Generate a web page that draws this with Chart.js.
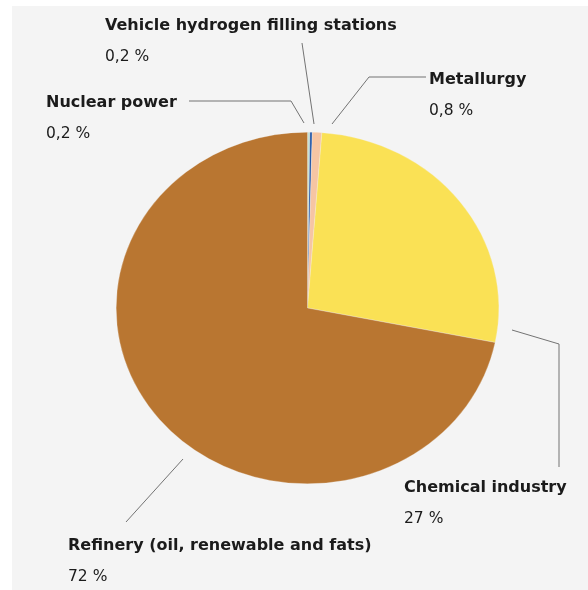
<!DOCTYPE html>
<html>
<head>
<meta charset="utf-8">
<script src="https://cdn.jsdelivr.net/npm/chart.js@4"></script>
<style>
  html, body { margin: 0; padding: 0; background: #ffffff; }
  #wrap { position: relative; width: 588px; height: 590px; }
</style>
</head>
<body>
<div id="wrap"><canvas id="useChart" width="588" height="590"></canvas></div>
<script>
// Hydrogen use by sector, share of total (%)
const sectors = [
  "Nuclear power",
  "Vehicle hydrogen filling stations",
  "Metallurgy",
  "Chemical industry",
  "Refinery (oil, renewable and fats)"
];
const shares = [0.2, 0.2, 0.8, 27, 72];
const shareLabels = ["0,2 %", "0,2 %", "0,8 %", "27 %", "72 %"];
const sliceColors = ["#c6e2d3", "#2457a6", "#f6c5a3", "#fae155", "#b97631"];

// Where each caption sits and how its leader line runs
const captions = [
  { x: 46,  y: 103, line: [[189, 101], [291, 101], [304, 123]] },
  { x: 105, y: 26,  line: [[302, 43], [314, 124]] },
  { x: 429, y: 80,  line: [[426, 77], [369, 77], [332, 124]] },
  { x: 404, y: 488, line: [[512, 330], [559, 344], [559, 467]] },
  { x: 68,  y: 546, line: [[183, 459], [126, 522]] }
];

const PANEL = "#f4f4f4";
const SQUASH = 176 / 191.5; // the pie is drawn slightly flattened

const panelPlugin = {
  id: "panel",
  beforeDraw(chart) {
    const ctx = chart.ctx;
    ctx.save();
    ctx.fillStyle = PANEL;
    ctx.fillRect(12, 6, chart.width - 12, chart.height - 6);
    ctx.restore();
  }
};

const squashPlugin = {
  id: "squash",
  beforeDatasetsDraw(chart) {
    const meta = chart.getDatasetMeta(0);
    const cy = meta.data[0].y;
    const ctx = chart.ctx;
    ctx.save();
    ctx.translate(0, cy);
    ctx.scale(1, SQUASH);
    ctx.translate(0, -cy);
  },
  afterDatasetsDraw(chart) {
    chart.ctx.restore();
  }
};

const captionPlugin = {
  id: "captions",
  afterDraw(chart) {
    const ctx = chart.ctx;
    ctx.save();
    ctx.strokeStyle = "#737373";
    ctx.lineWidth = 1;
    captions.forEach((c, i) => {
      ctx.beginPath();
      c.line.forEach((p, j) => j ? ctx.lineTo(p[0], p[1]) : ctx.moveTo(p[0], p[1]));
      ctx.stroke();

      ctx.fillStyle = "#1b1b1b";
      ctx.textBaseline = "middle";
      ctx.textAlign = "left";
      ctx.font = "bold 16px 'DejaVu Sans'";
      ctx.fillText(sectors[i], c.x, c.y);
      ctx.font = "15.5px 'DejaVu Sans'";
      ctx.fillText(shareLabels[i], c.x, c.y + 31);
    });
    ctx.restore();
  }
};

new Chart(document.getElementById("useChart"), {
  type: "pie",
  data: {
    labels: sectors,
    datasets: [{
      data: shares,
      backgroundColor: sliceColors,
      borderColor: "#f4f4f4",
      borderWidth: 0.3
    }]
  },
  options: {
    responsive: false,
    animation: false,
    layout: { padding: { left: 116, right: 89, top: 116.5, bottom: 90.5 } },
    plugins: {
      legend: { display: false },
      tooltip: { enabled: false }
    }
  },
  plugins: [panelPlugin, squashPlugin, captionPlugin]
});
</script>
</body>
</html>
